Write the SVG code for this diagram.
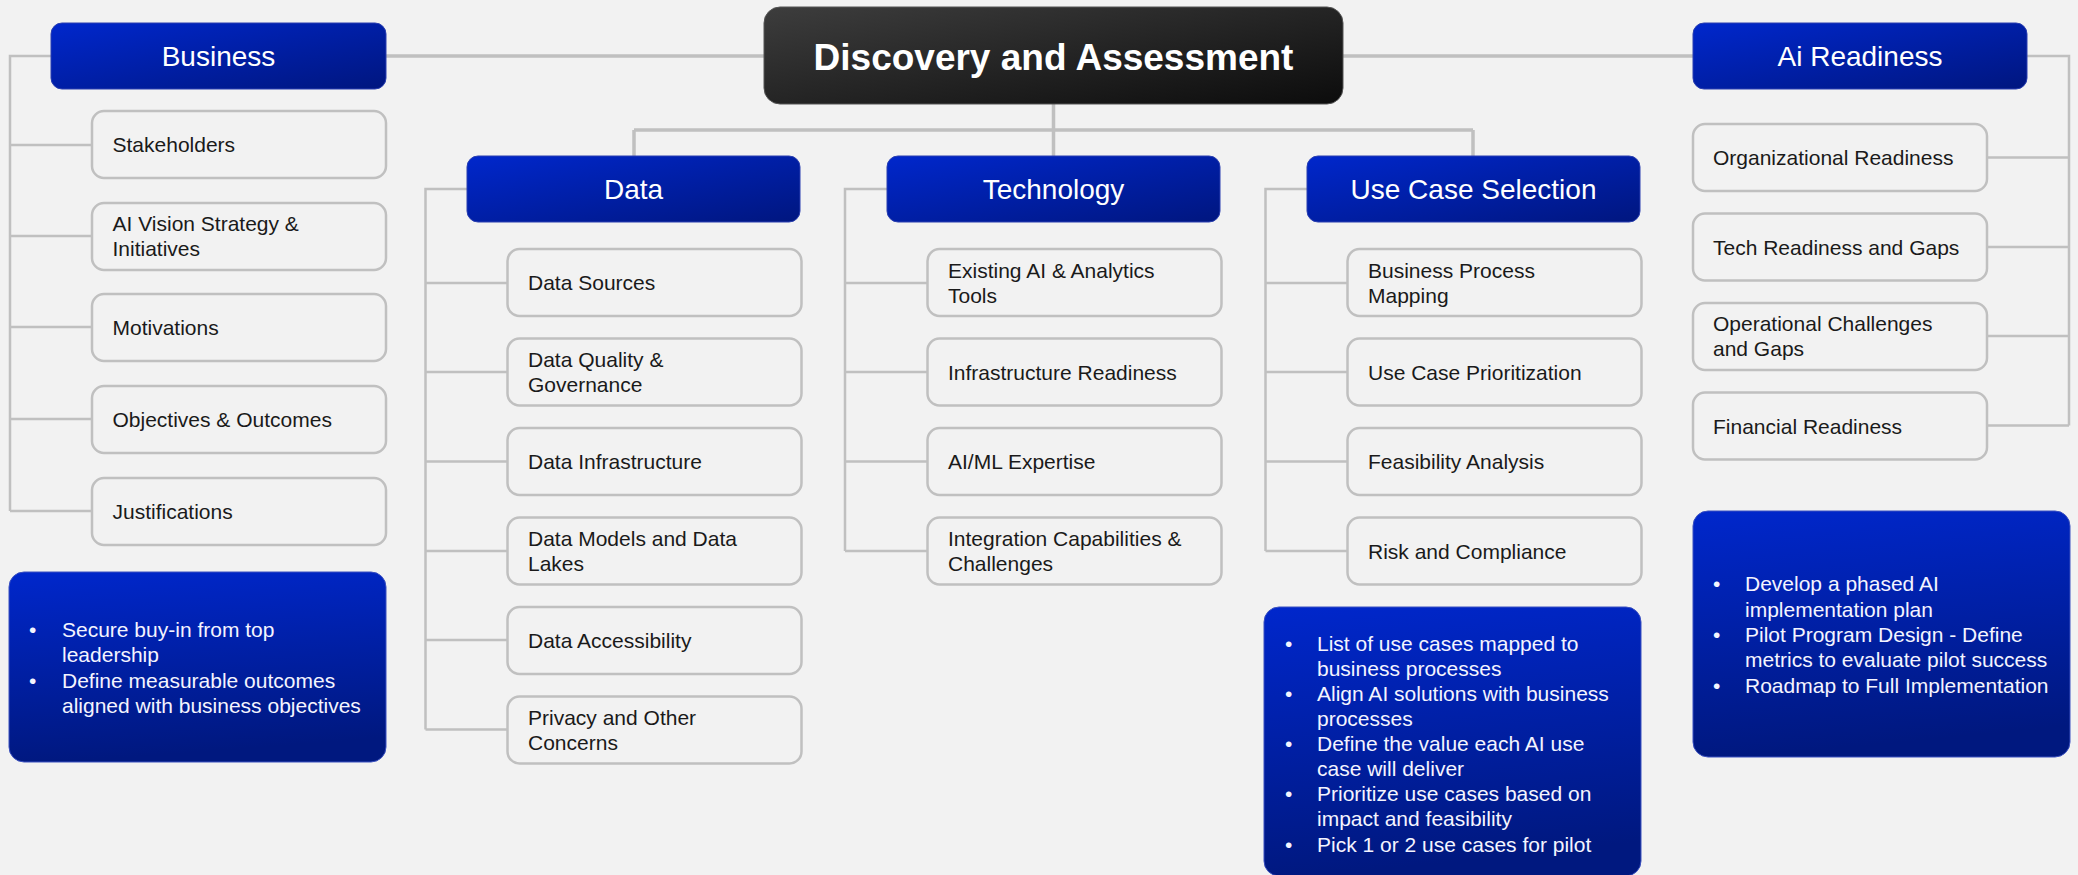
<svg xmlns="http://www.w3.org/2000/svg" width="2078" height="875" viewBox="0 0 2078 875">
<defs>
<linearGradient id="hdr" x1="0" y1="0" x2="1" y2="1">
<stop offset="0" stop-color="#0027cc"/>
<stop offset="1" stop-color="#00167f"/>
</linearGradient>
<linearGradient id="blt" x1="0" y1="0" x2="0.15" y2="1">
<stop offset="0" stop-color="#0027cc"/>
<stop offset="1" stop-color="#00187f"/>
</linearGradient>
<linearGradient id="root" x1="0" y1="0" x2="1" y2="1">
<stop offset="0" stop-color="#3d3d3d"/>
<stop offset="1" stop-color="#0c0c0c"/>
</linearGradient>
<style>
.hdr{fill:url(#hdr);stroke:#2a3fb0;stroke-width:1}
.box{fill:#f2f2f2;stroke:#c0c0c0;stroke-width:2.5}
.blt{fill:url(#blt);stroke:#3a50c0;stroke-width:1}
.ht{font-family:"Liberation Sans",Arial,sans-serif;font-size:28px;fill:#ffffff;text-anchor:middle}
.bt{font-family:"Liberation Sans",Arial,sans-serif;font-size:21px;fill:#1a1a1a}
.wt{font-family:"Liberation Sans",Arial,sans-serif;font-size:21px;fill:#f4f4ff}
.ln{fill:none;stroke:#c0c0c0;stroke-width:2.5}
.lnm{fill:none;stroke:#c0c0c0;stroke-width:3.5}
</style>
</defs>
<rect x="0" y="0" width="2078" height="875" fill="#f2f2f2"/>

<g id="connectors">
<path class="lnm" d="M386 56 H764 M1343 56 H1693"/>
<path class="lnm" d="M1053.5 104 V156 M634 130 H1473 M634 130 V156 M1473 130 V156"/>
<path class="ln" d="M51 56 H10 V511 M10 145 H92 M10 236 H92 M10 327 H92 M10 419 H92 M10 511 H92"/>
<path class="ln" d="M467 189 H425.5 V729.5 M425.5 283 H507.5 M425.5 372 H507.5 M425.5 461.5 H507.5 M425.5 551 H507.5 M425.5 640 H507.5 M425.5 729.5 H507.5"/>
<path class="ln" d="M887 189 H845 V551 M845 283 H927.5 M845 372 H927.5 M845 461.5 H927.5 M845 551 H927.5"/>
<path class="ln" d="M1307 189 H1265.5 V551 M1265.5 283 H1347.5 M1265.5 372 H1347.5 M1265.5 461.5 H1347.5 M1265.5 551 H1347.5"/>
<path class="ln" d="M2027 56 H2069 V425.5 M1987 157.5 H2069 M1987 247 H2069 M1987 336 H2069 M1987 425.5 H2069"/>
</g>

<g id="root-node">
<rect x="764" y="7" width="579" height="97" rx="16" fill="url(#root)" stroke="#555" stroke-width="1"/>
<text x="1053.5" y="70" font-family="Liberation Sans,Arial,sans-serif" font-size="37" font-weight="bold" fill="#ffffff" text-anchor="middle">Discovery and Assessment</text>
</g>

<g id="business">
<rect class="hdr" x="51" y="23" width="335" height="66" rx="11"/>
<text class="ht" x="218.5" y="66">Business</text>
</g>
<g id="b-stakeholders"><rect class="box" x="92" y="111" width="294" height="67" rx="12"/><text class="bt" x="112.5" y="152">Stakeholders</text></g>
<g id="b-vision"><rect class="box" x="92" y="203" width="294" height="67" rx="12"/><text class="bt" x="112.5" y="231">AI Vision Strategy &amp;</text><text class="bt" x="112.5" y="256">Initiatives</text></g>
<g id="b-motivations"><rect class="box" x="92" y="294" width="294" height="67" rx="12"/><text class="bt" x="112.5" y="335">Motivations</text></g>
<g id="b-objectives"><rect class="box" x="92" y="386" width="294" height="67" rx="12"/><text class="bt" x="112.5" y="427">Objectives &amp; Outcomes</text></g>
<g id="b-justifications"><rect class="box" x="92" y="478" width="294" height="67" rx="12"/><text class="bt" x="112.5" y="519">Justifications</text></g>
<g id="b-notes">
<rect class="blt" x="9" y="572" width="377" height="190" rx="15"/>
<text class="wt" x="29" y="637">•</text><text class="wt" x="62" y="637">Secure buy-in from top</text>
<text class="wt" x="62" y="662">leadership</text>
<text class="wt" x="29" y="688">•</text><text class="wt" x="62" y="688">Define measurable outcomes</text>
<text class="wt" x="62" y="713">aligned with business objectives</text>
</g>

<g id="data">
<rect class="hdr" x="467" y="156" width="333" height="66" rx="11"/>
<text class="ht" x="633.5" y="199">Data</text>
</g>
<g id="d-sources"><rect class="box" x="507.5" y="249" width="294" height="67" rx="12"/><text class="bt" x="528" y="290">Data Sources</text></g>
<g id="d-quality"><rect class="box" x="507.5" y="338.5" width="294" height="67" rx="12"/><text class="bt" x="528" y="367">Data Quality &amp;</text><text class="bt" x="528" y="392">Governance</text></g>
<g id="d-infra"><rect class="box" x="507.5" y="428" width="294" height="67" rx="12"/><text class="bt" x="528" y="469">Data Infrastructure</text></g>
<g id="d-models"><rect class="box" x="507.5" y="517.5" width="294" height="67" rx="12"/><text class="bt" x="528" y="546">Data Models and Data</text><text class="bt" x="528" y="571">Lakes</text></g>
<g id="d-access"><rect class="box" x="507.5" y="607" width="294" height="67" rx="12"/><text class="bt" x="528" y="648">Data Accessibility</text></g>
<g id="d-privacy"><rect class="box" x="507.5" y="696.5" width="294" height="67" rx="12"/><text class="bt" x="528" y="725">Privacy and Other</text><text class="bt" x="528" y="750">Concerns</text></g>

<g id="technology">
<rect class="hdr" x="887" y="156" width="333" height="66" rx="11"/>
<text class="ht" x="1053.5" y="199">Technology</text>
</g>
<g id="t-tools"><rect class="box" x="927.5" y="249" width="294" height="67" rx="12"/><text class="bt" x="948" y="278">Existing AI &amp; Analytics</text><text class="bt" x="948" y="303">Tools</text></g>
<g id="t-infra"><rect class="box" x="927.5" y="338.5" width="294" height="67" rx="12"/><text class="bt" x="948" y="379.5">Infrastructure Readiness</text></g>
<g id="t-expertise"><rect class="box" x="927.5" y="428" width="294" height="67" rx="12"/><text class="bt" x="948" y="469">AI/ML Expertise</text></g>
<g id="t-integration"><rect class="box" x="927.5" y="517.5" width="294" height="67" rx="12"/><text class="bt" x="948" y="546">Integration Capabilities &amp;</text><text class="bt" x="948" y="571">Challenges</text></g>

<g id="usecase">
<rect class="hdr" x="1307" y="156" width="333" height="66" rx="11"/>
<text class="ht" x="1473.5" y="199">Use Case Selection</text>
</g>
<g id="u-mapping"><rect class="box" x="1347.5" y="249" width="294" height="67" rx="12"/><text class="bt" x="1368" y="278">Business Process</text><text class="bt" x="1368" y="303">Mapping</text></g>
<g id="u-priority"><rect class="box" x="1347.5" y="338.5" width="294" height="67" rx="12"/><text class="bt" x="1368" y="379.5">Use Case Prioritization</text></g>
<g id="u-feasibility"><rect class="box" x="1347.5" y="428" width="294" height="67" rx="12"/><text class="bt" x="1368" y="469">Feasibility Analysis</text></g>
<g id="u-risk"><rect class="box" x="1347.5" y="517.5" width="294" height="67" rx="12"/><text class="bt" x="1368" y="558.5">Risk and Compliance</text></g>
<g id="u-notes">
<rect class="blt" x="1264" y="607" width="377" height="269" rx="15"/>
<text class="wt" x="1285" y="651">•</text><text class="wt" x="1317" y="651">List of use cases mapped to</text>
<text class="wt" x="1317" y="676">business processes</text>
<text class="wt" x="1285" y="701">•</text><text class="wt" x="1317" y="701">Align AI solutions with business</text>
<text class="wt" x="1317" y="726">processes</text>
<text class="wt" x="1285" y="751">•</text><text class="wt" x="1317" y="751">Define the value each AI use</text>
<text class="wt" x="1317" y="776">case will deliver</text>
<text class="wt" x="1285" y="801">•</text><text class="wt" x="1317" y="801">Prioritize use cases based on</text>
<text class="wt" x="1317" y="826">impact and feasibility</text>
<text class="wt" x="1285" y="852">•</text><text class="wt" x="1317" y="852">Pick 1 or 2 use cases for pilot</text>
</g>

<g id="ai-readiness">
<rect class="hdr" x="1693" y="23" width="334" height="66" rx="11"/>
<text class="ht" x="1860" y="66">Ai Readiness</text>
</g>
<g id="a-org"><rect class="box" x="1693" y="124" width="294" height="67" rx="12"/><text class="bt" x="1713" y="165">Organizational Readiness</text></g>
<g id="a-tech"><rect class="box" x="1693" y="213.5" width="294" height="67" rx="12"/><text class="bt" x="1713" y="254.5">Tech Readiness and Gaps</text></g>
<g id="a-ops"><rect class="box" x="1693" y="303" width="294" height="67" rx="12"/><text class="bt" x="1713" y="331">Operational Challenges</text><text class="bt" x="1713" y="356">and Gaps</text></g>
<g id="a-fin"><rect class="box" x="1693" y="392.5" width="294" height="67" rx="12"/><text class="bt" x="1713" y="433.5">Financial Readiness</text></g>
<g id="a-notes">
<rect class="blt" x="1693" y="511" width="377" height="246" rx="15"/>
<text class="wt" x="1713" y="591">•</text><text class="wt" x="1745" y="591">Develop a phased AI</text>
<text class="wt" x="1745" y="617">implementation plan</text>
<text class="wt" x="1713" y="642">•</text><text class="wt" x="1745" y="642">Pilot Program Design - Define</text>
<text class="wt" x="1745" y="667">metrics to evaluate pilot success</text>
<text class="wt" x="1713" y="693">•</text><text class="wt" x="1745" y="693">Roadmap to Full Implementation</text>
</g>
</svg>
